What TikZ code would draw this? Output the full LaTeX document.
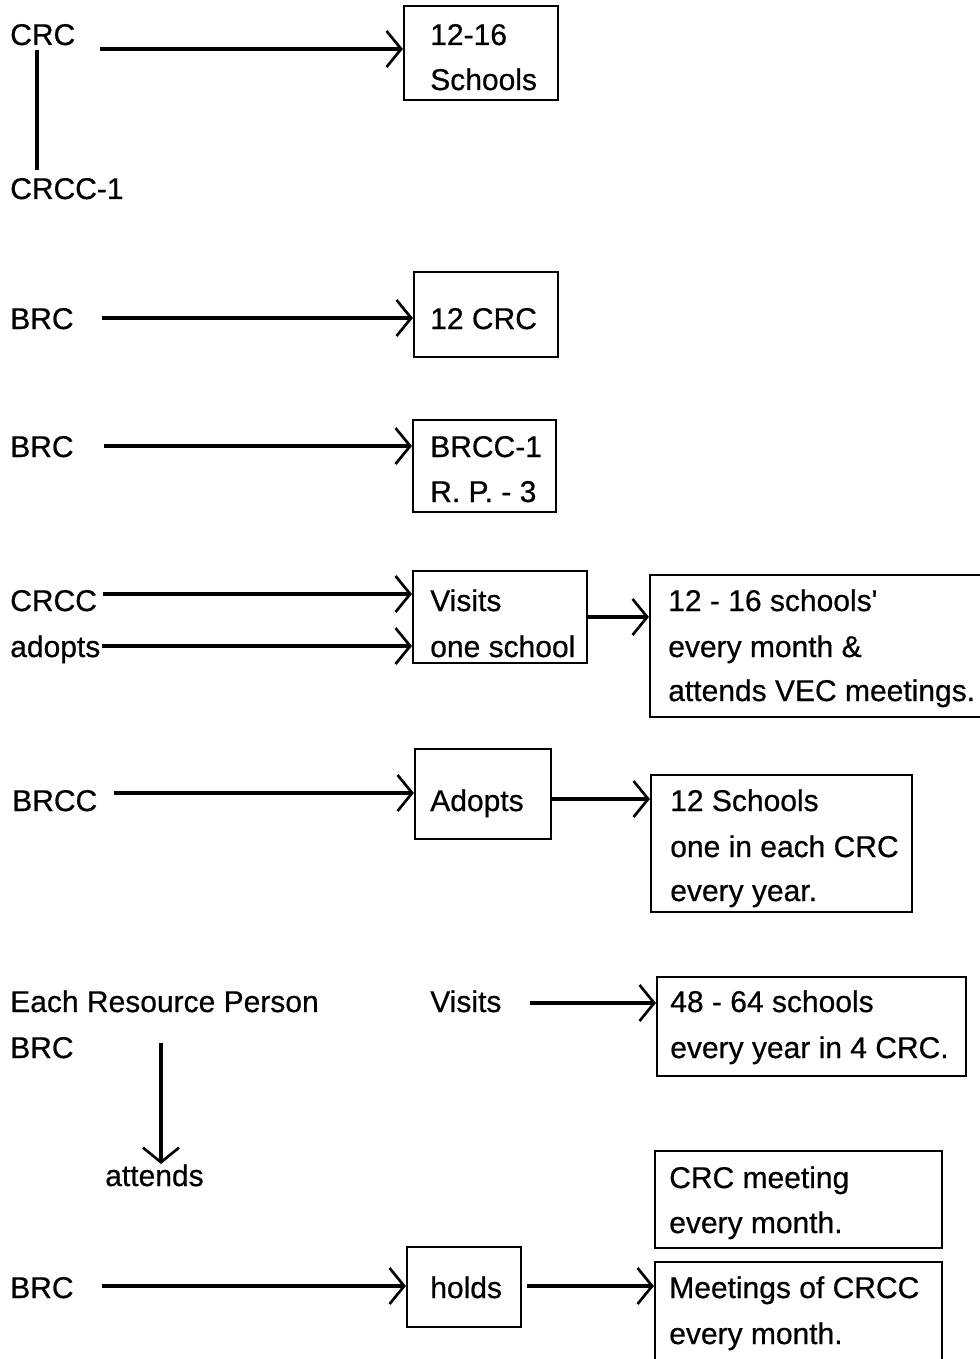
\documentclass[tikz,border=0pt]{standalone}
\usepackage{fontspec}
\setmainfont[FakeBold=0.6,AutoFakeBold=0.6,Ligatures=TeXOff]{Liberation Sans}
\usetikzlibrary{arrows.meta,fit}
\begin{document}
\begin{tikzpicture}[x=0.75pt,y=-0.75pt,
  txt/.style={anchor=base west, inner sep=0pt, font=\fontsize{22.5pt}{27pt}\selectfont\bfseries},
  box/.style={draw, line width=1.6pt, inner sep=0pt},
  arr/.style={line width=2.4pt, -{Straight Barb[length=11pt,width=27pt,line width=2pt]}},
  link/.style={line width=2.4pt}]
\useasboundingbox (0,0) rectangle (980,1359);

% ---- CRC and its schools
\node[txt] (crc) at (10,45) {CRC};
\node[txt] (crcc1) at (10,199) {CRCC-1};
\coordinate (crcA) at (37,50);
\coordinate (crcB) at (37,170);
\draw[link] (crcA) -- (crcB);
\path (404,6) coordinate (b1a) (558,100) coordinate (b1b);
\node[box, fit=(b1a)(b1b)] (b1) {};
\node[txt] (b1l1) at (430,45) {12-16};
\node[txt] (b1l2) at (430,90) {Schools};
\coordinate (s1) at (100,49);
\draw[arr] (s1) -- (s1 -| b1.west);

% ---- BRC to 12 CRC
\node[txt] (brc1) at (10,329) {BRC};
\path (414,272) coordinate (b2a) (558,357) coordinate (b2b);
\node[box, fit=(b2a)(b2b)] (b2) {};
\node[txt] (b2l1) at (430,329) {12 CRC};
\coordinate (s2) at (102,318);
\draw[arr] (s2) -- (s2 -| b2.west);

% ---- BRC staff
\node[txt] (brc2) at (10,457) {BRC};
\path (413,420) coordinate (b3a) (556,512) coordinate (b3b);
\node[box, fit=(b3a)(b3b)] (b3) {};
\node[txt] (b3l1) at (430,457) {BRCC-1};
\node[txt] (b3l2) at (430,502) {R. P. - 3};
\coordinate (s3) at (104,446);
\draw[arr] (s3) -- (s3 -| b3.west);

% ---- CRCC visits
\node[txt] (crcc) at (10,611) {CRCC};
\node[txt] (adopts) at (10,657) {adopts};
\path (413,571) coordinate (b4a) (587,663) coordinate (b4b);
\node[box, fit=(b4a)(b4b)] (b4) {};
\node[txt] (b4l1) at (430,611) {Visits};
\node[txt] (b4l2) at (430,657) {one school};
\coordinate (s4) at (103,594);
\coordinate (s5) at (102,646);
\draw[arr] (s4) -- (s4 -| b4.west);
\draw[arr] (s5) -- (s5 -| b4.west);
\path (650,575) coordinate (b5a) (990,717) coordinate (b5b);
\node[box, fit=(b5a)(b5b)] (b5) {};
\node[txt] (b5l1) at (668,611) {12 - 16 schools'};
\node[txt] (b5l2) at (668,657) {every month \&};
\node[txt] (b5l3) at (668,701) {attends VEC meetings.};
\coordinate (s6) at (587,617);
\draw[arr] (s6) -- (s6 -| b5.west);

% ---- BRCC adopts
\node[txt] (brcc) at (12,811) {BRCC};
\path (415,749) coordinate (b6a) (551,839) coordinate (b6b);
\node[box, fit=(b6a)(b6b)] (b6) {};
\node[txt] (b6l1) at (430,811) {Adopts};
\coordinate (s7) at (114,793);
\draw[arr] (s7) -- (s7 -| b6.west);
\path (651,775) coordinate (b7a) (912,912) coordinate (b7b);
\node[box, fit=(b7a)(b7b)] (b7) {};
\node[txt] (b7l1) at (670,811) {12 Schools};
\node[txt] (b7l2) at (670,857) {one in each CRC};
\node[txt] (b7l3) at (670,901) {every year.};
\coordinate (s8) at (551,799);
\draw[arr] (s8) -- (s8 -| b7.west);

% ---- Resource person
\node[txt] (erp) at (10,1012) {Each Resource Person};
\node[txt] (brc3) at (10,1058) {BRC};
\node[txt] (visits) at (430,1012) {Visits};
\path (657,977) coordinate (b8a) (966,1076) coordinate (b8b);
\node[box, fit=(b8a)(b8b)] (b8) {};
\node[txt] (b8l1) at (670,1012) {48 - 64 schools};
\node[txt] (b8l2) at (670,1058) {every year in 4 CRC.};
\coordinate (s9) at (530,1003);
\draw[arr] (s9) -- (s9 -| b8.west);
\node[txt] (attends) at (105,1186) {attends};
\coordinate (s10) at (161,1043);
\draw[arr] (s10) -- (s10 |- attends.north);

% ---- BRC holds meetings
\path (655,1151) coordinate (b9a) (942,1248) coordinate (b9b);
\node[box, fit=(b9a)(b9b)] (b9) {};
\node[txt] (b9l1) at (669,1188) {CRC meeting};
\node[txt] (b9l2) at (669,1233) {every month.};
\node[txt] (brc4) at (10,1298) {BRC};
\path (407,1247) coordinate (b10a) (521,1327) coordinate (b10b);
\node[box, fit=(b10a)(b10b)] (b10) {};
\node[txt] (b10l1) at (430,1298) {holds};
\coordinate (s11) at (102,1286);
\draw[arr] (s11) -- (s11 -| b10.west);
\path (655,1262) coordinate (b11a) (942,1368) coordinate (b11b);
\node[box, fit=(b11a)(b11b)] (b11) {};
\node[txt] (b11l1) at (669,1298) {Meetings of CRCC};
\node[txt] (b11l2) at (669,1344) {every month.};
\coordinate (s12) at (527,1286);
\draw[arr] (s12) -- (s12 -| b11.west);
\end{tikzpicture}
\end{document}
